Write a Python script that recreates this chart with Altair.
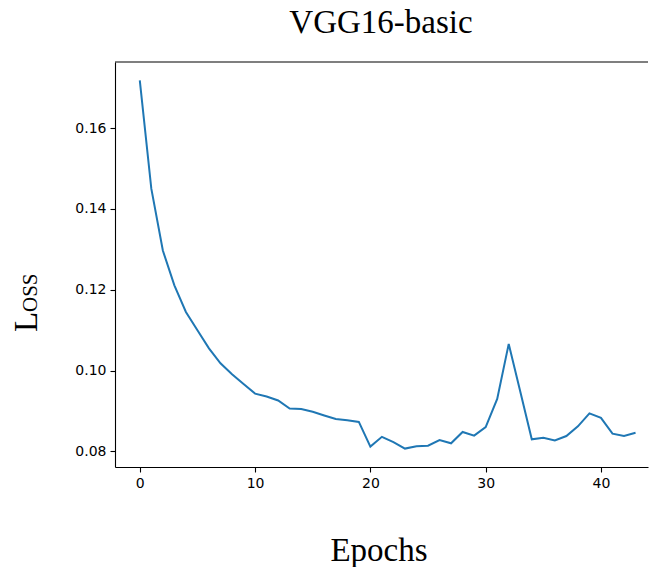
import altair as alt
import pandas as pd

epochs = list(range(44))
loss = [0.1718, 0.1450, 0.1297, 0.1211, 0.1145, 0.1100, 0.1055, 0.1018, 0.0991, 0.0967,
        0.0943, 0.0936, 0.0926, 0.0906, 0.0905, 0.0898, 0.0889, 0.0880, 0.0877, 0.0873,
        0.0812, 0.0836, 0.0823, 0.0807, 0.0813, 0.0814, 0.0828, 0.0820, 0.0848, 0.0839,
        0.0860, 0.0930, 0.1066, 0.0948, 0.0830, 0.0834, 0.0827, 0.0838, 0.0862, 0.0894,
        0.0883, 0.0844, 0.0838, 0.0846]
x_ticks = [0, 10, 20, 30, 40]
y_ticks = [0.08, 0.10, 0.12, 0.14, 0.16]
title_text = ["VGG16-basic"]
xlabel_text = ["Epochs"]
ylabel_big = ["L"]
ylabel_small = ["OSS"]

W, H = 533, 405
df = pd.DataFrame({"epoch": epochs, "loss": loss})

line = alt.Chart(df).mark_line(color="#1f77b4", strokeWidth=2).encode(
    x=alt.X("epoch:Q",
            scale=alt.Scale(domain=[-2.15, 44.08], nice=False, zero=False),
            axis=alt.Axis(values=x_ticks, format="d", title=None)),
    y=alt.Y("loss:Q",
            scale=alt.Scale(domain=[0.07614, 0.17636], nice=False, zero=False),
            axis=alt.Axis(values=y_ticks, format=".2f", title=None)),
)

top_spine = alt.Chart(pd.DataFrame({"a": [0]})).mark_rule(color="black", strokeWidth=1.1).encode(
    x=alt.value(0), x2=alt.value(W), y=alt.value(0)
)

serif = "Liberation Serif"

title = alt.Chart(pd.DataFrame({"t": title_text})).mark_text(
    font=serif, fontSize=33, align="center", baseline="alphabetic", color="black"
).encode(text="t:N", x=alt.value(266), y=alt.value(-29))

xlabel = alt.Chart(pd.DataFrame({"t": xlabel_text})).mark_text(
    font=serif, fontSize=33, align="center", baseline="alphabetic", color="black"
).encode(text="t:N", x=alt.value(264), y=alt.value(499))

yl1 = alt.Chart(pd.DataFrame({"t": ylabel_big})).mark_text(
    font=serif, fontSize=33, align="left", baseline="alphabetic", angle=270, color="black"
).encode(text="t:N", x=alt.value(-78), y=alt.value(270))

yl2 = alt.Chart(pd.DataFrame({"t": ylabel_small})).mark_text(
    font=serif, fontSize=21, align="left", baseline="alphabetic", angle=270, color="black"
).encode(text="t:N", x=alt.value(-78), y=alt.value(250))

chart = alt.layer(line, top_spine, title, xlabel, yl1, yl2).properties(
    width=W, height=H,
    autosize=alt.AutoSizeParams(type="none"),
    padding={"left": 115, "top": 62, "right": 1, "bottom": 100},
    background="white",
).configure_view(stroke=None).configure_axis(
    grid=False, domainColor="black", domainWidth=1.1, tickColor="black", tickWidth=1.1,
    tickSize=5, labelPadding=4, labelFont="DejaVu Sans", labelFontSize=14, labelColor="black",
)

chart.save("out.html", embed_options={"renderer": "svg", "actions": False})
